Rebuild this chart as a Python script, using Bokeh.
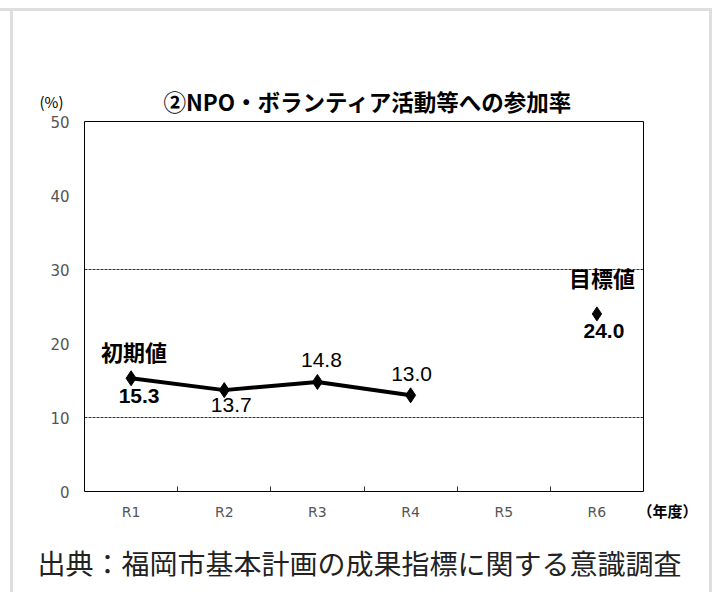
from bokeh.plotting import figure
from bokeh.models import ColumnDataSource, FixedTicker, Label, Range1d
from bokeh.core.properties import value
from bokeh.embed import file_html
from bokeh.resources import INLINE

# ---- data ----
years = ["R1", "R2", "R3", "R4", "R5", "R6"]
actual_years = ["R1", "R2", "R3", "R4"]
actual_values = [15.3, 13.7, 14.8, 13.0]
target_year = "R6"
target_value = 24.0
y_ticks = [0, 10, 20, 30, 40, 50]
grid_values = [10, 30]
title_text = "②NPO・ボランティア活動等への参加率"
initial_label = "初期値"
target_label = "目標値"
y_unit = "(%)"
x_unit = "（年度）"
source_note = "出典：福岡市基本計画の成果指標に関する意識調査"

JP = "Noto Sans CJK JP"

pos = {y: i + 0.5 for i, y in enumerate(years)}
ax = [pos[y] for y in actual_years]
tx = pos[target_year]
n = len(years)
y0, y1 = y_ticks[0], y_ticks[-1]

# ---- layout (pixels) ----
W, H = 716, 592
BL, BB = 36, 16                 # reserved left / bottom borders
CH_L, CH_T, CH_W, CH_H = 84, 121, 559, 370   # chart box on the canvas
FW, FH = W - BL, H - BB         # frame size (frame covers the rest of the canvas)
ux = CH_W / n                   # px per category
uy = CH_H / (y1 - y0)           # px per %
x_range = Range1d(-(CH_L - BL) / ux, n + (W - CH_L - CH_W) / ux)
y_range = Range1d(y0 - (FH - CH_T - CH_H) / uy, y1 + CH_T / uy)

p = figure(width=W, height=H, x_range=x_range, y_range=y_range,
           output_backend="svg", toolbar_location=None,
           min_border_left=BL, min_border_right=0, min_border_top=0, min_border_bottom=BB)
p.background_fill_color = None
p.border_fill_color = None
p.outline_line_color = None
# light grey panel lines of the page (CSS decoration behind the canvas)
p.styles = {
    "background-color": "white",
    "background-image": "linear-gradient(#dedede,#dedede), linear-gradient(#dedede,#dedede), linear-gradient(#dedede,#dedede)",
    "background-size": "712px 3px, 3px 600px, 3px 600px",
    "background-position": "0px 8px, 10px 8px, 709px 8px",
    "background-repeat": "no-repeat",
}

# chart box
p.quad(left=[0], right=[n], bottom=[y0], top=[y1], fill_color=None, line_color="black", line_width=1)
# dashed reference lines
p.segment(x0=[0] * len(grid_values), x1=[n] * len(grid_values), y0=grid_values, y1=grid_values,
          line_color="black", line_dash="3 1", line_width=1, line_alpha=0.8)

# x axis: labels at category centres, small inward ticks at boundaries
p.xaxis.fixed_location = y0
p.xaxis.ticker = FixedTicker(ticks=[pos[y] for y in years], minor_ticks=list(range(1, n)))
p.xaxis.major_label_overrides = {pos[y]: y for y in years}
p.xaxis.major_tick_line_color = None
p.xaxis.minor_tick_in = 5
p.xaxis.minor_tick_out = 0
p.xaxis.minor_tick_line_color = "#333333"
p.xaxis.axis_line_color = None
p.xaxis.major_label_standoff = 6
p.xaxis.major_label_text_font = "DejaVu Sans"
p.xaxis.major_label_text_font_size = "14px"
p.xaxis.major_label_text_color = "#555555"

# y axis
p.yaxis.fixed_location = 0
p.yaxis.ticker = FixedTicker(ticks=y_ticks)
p.yaxis.major_tick_line_color = None
p.yaxis.minor_tick_line_color = None
p.yaxis.axis_line_color = None
p.yaxis.major_label_standoff = 9
p.yaxis.major_label_text_font = "DejaVu Sans"
p.yaxis.major_label_text_font_size = "15px"
p.yaxis.major_label_text_color = "#555555"

p.xgrid.visible = False
p.ygrid.visible = False

# series
p.line(x=ax, y=actual_values, line_color="black", line_width=4)
p.scatter(x=ax, y=actual_values, marker="diamond", size=15, color="black")
p.scatter(x=[tx], y=[target_value], marker="diamond", size=14, color="black")

# value labels
lab_x = ax + [tx]
lab_y = actual_values + [target_value]
src = ColumnDataSource(dict(
    x=lab_x, y=lab_y, text=[f"{v:.1f}" for v in lab_y],
    xo=[8, 7, 4, 1, 7], yo=[18, 15, -22, -21, 17],
    st=["bold", "normal", "normal", "normal", "bold"],
))
p.text(x="x", y="y", text="text", x_offset="xo", y_offset="yo", text_font_style="st",
       source=src, text_align="center", text_baseline="middle",
       text_font=value("Liberation Sans"), text_font_size="21px", text_color="black")

src2 = ColumnDataSource(dict(
    x=[ax[0], tx], y=[actual_values[0], target_value], text=[initial_label, target_label],
    xo=[3, 5], yo=[-27, -37],
))
p.text(x="x", y="y", text="text", x_offset="xo", y_offset="yo", source=src2,
       text_align="center", text_baseline="middle", text_font=value(JP),
       text_font_size="22px", text_font_style="bold", text_color="black")

# chart title, unit labels and source note (inside the frame, anchored to the chart box)
p.add_layout(Label(x=n / 2, y=y1, x_offset=4, y_offset=21, text=title_text,
                   text_align="center", text_baseline="middle", text_font=JP,
                   text_font_size="22.5px", text_font_style="bold", text_color="black"))
p.add_layout(Label(x=0, y=y1, x_offset=-33, y_offset=20, text=y_unit,
                   text_align="center", text_baseline="middle", text_font=JP,
                   text_font_size="15px", text_color="black"))
p.add_layout(Label(x=n, y=y0, x_offset=24, y_offset=-19, text=x_unit,
                   text_align="center", text_baseline="middle", text_font=JP,
                   text_font_size="15px", text_font_style="bold", text_color="black"))
p.add_layout(Label(x=0, y=y0, x_offset=-47, y_offset=-71, text=source_note,
                   text_align="left", text_baseline="middle", text_font=JP,
                   text_font_size="28px", text_color="#222222"))

open("out.html", "w").write(file_html(p, INLINE))
